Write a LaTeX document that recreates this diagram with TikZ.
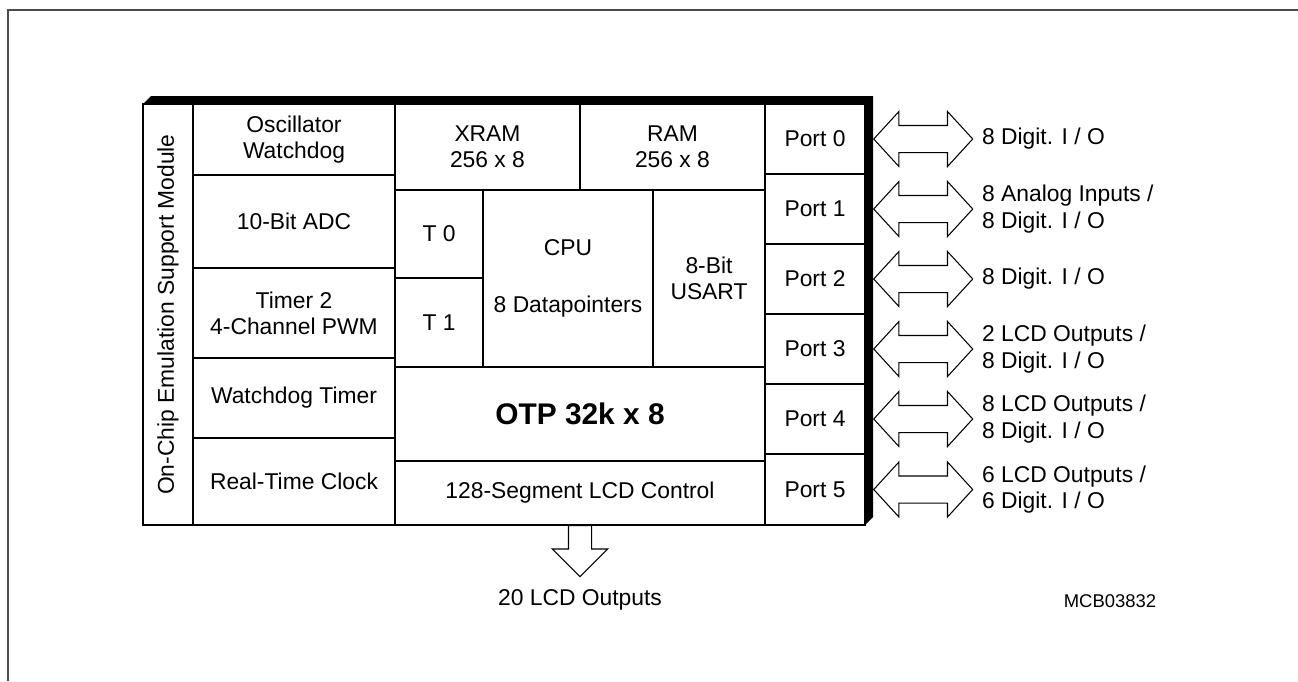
\documentclass[tikz,border=0pt]{standalone}
\usepackage{fontspec}
\setmainfont{Liberation Sans}
\usetikzlibrary{positioning}
\usetikzlibrary{shapes.arrows}

\tikzset{
	blk/.style 2 args={draw, line width=0.9pt, inner sep=0pt, outer sep=0pt, anchor=north west, align=center, minimum width=#1*0.02cm, minimum height=#2*0.02cm},
	dbl/.style={double arrow, draw, line width=0.6pt, inner sep=0.26cm, minimum height=1.98cm, double arrow head extend=0.28cm, double arrow tip angle=95},
	io/.style={align=left, right=0.05cm of #1},
}

\begin{document}
\begin{tikzpicture}[x=0.02cm, y=-0.02cm, font=\fontsize{13}{15}\selectfont]
	\useasboundingbox (0,0) rectangle (1298,681);
	\draw[line width=1.2pt, black!70] (1298,10) -- (8,10) -- (8,681);
	\node[blk={50}{421}] (emu) at (143,104) {};
	\node[rotate=90] (emut) at (emu.center) {On-Chip Emulation Support Module};
	\node[blk={202}{71}] (osc) at (193,104) {Oscillator\\Watchdog};
	\node[blk={202}{93}] (adc) at (193,175) {10-Bit ADC};
	\node[blk={202}{90}] (tmr) at (193,268) {Timer 2\\4-Channel PWM};
	\node[blk={202}{80}] (wdt) at (193,358) {Watchdog Timer};
	\node[blk={202}{87}] (rtc) at (193,438) {Real-Time Clock};
	\node[blk={185}{86}] (xram) at (395,104) {XRAM\\256 x 8};
	\node[blk={185}{86}] (ram) at (580,104) {RAM\\256 x 8};
	\node[blk={88}{88}] (t0) at (395,190) {T 0};
	\node[blk={88}{89}] (t1) at (395,278) {T 1};
	\node[blk={170}{177}] (cpu) at (483,190) {CPU\\[0.6cm]8 Datapointers};
	\node[blk={112}{177}] (usart) at (653,190) {8-Bit\\USART};
	\node[blk={370}{94}, font=\fontsize{17}{20}\selectfont\bfseries] (otp) at (395,367) {OTP 32k x 8};
	\node[blk={370}{64}] (lcd) at (395,461) {128-Segment LCD Control};
	\node[blk={100}{70}] (p0) at (765,104) {Port 0};
	\node[blk={100}{70}] (p1) at (765,174) {Port 1};
	\node[blk={100}{70}] (p2) at (765,244) {Port 2};
	\node[blk={100}{70}] (p3) at (765,314) {Port 3};
	\node[blk={100}{70}] (p4) at (765,384) {Port 4};
	\node[blk={100}{71}] (p5) at (765,454) {Port 5};
	\fill (emu.north west) -- ++(8,-8) -- ([shift={(8,-8)}]p0.north east) -- ([shift={(8,-8)}]p5.south east) -- (p5.south east) -- (p0.north east) -- cycle;
	\node[dbl, right=0.16cm of p0] (a0) {};
	\node[dbl, right=0.16cm of p1] (a1) {};
	\node[dbl, right=0.16cm of p2] (a2) {};
	\node[dbl, right=0.16cm of p3] (a3) {};
	\node[dbl, right=0.16cm of p4] (a4) {};
	\node[dbl, right=0.16cm of p5] (a5) {};
	\node[io=a0] (l0) {8 Digit. I / O};
	\node[io=a1] (l1) {8 Analog Inputs /\\8 Digit. I / O};
	\node[io=a2] (l2) {8 Digit. I / O};
	\node[io=a3] (l3) {2 LCD Outputs /\\8 Digit. I / O};
	\node[io=a4] (l4) {8 LCD Outputs /\\8 Digit. I / O};
	\node[io=a5] (l5) {6 LCD Outputs /\\6 Digit. I / O};
	\node[single arrow, draw, line width=0.6pt, inner sep=0.22cm, minimum height=1.02cm, single arrow head extend=0.32cm, shape border rotate=270, below=0pt of lcd] (out) {};
	\node[below=0.12cm of out] (lout) {20 LCD Outputs};
	\node[font=\fontsize{10.5}{12}\selectfont] (id) at (1110,601) {MCB03832};
\end{tikzpicture}
\end{document}
